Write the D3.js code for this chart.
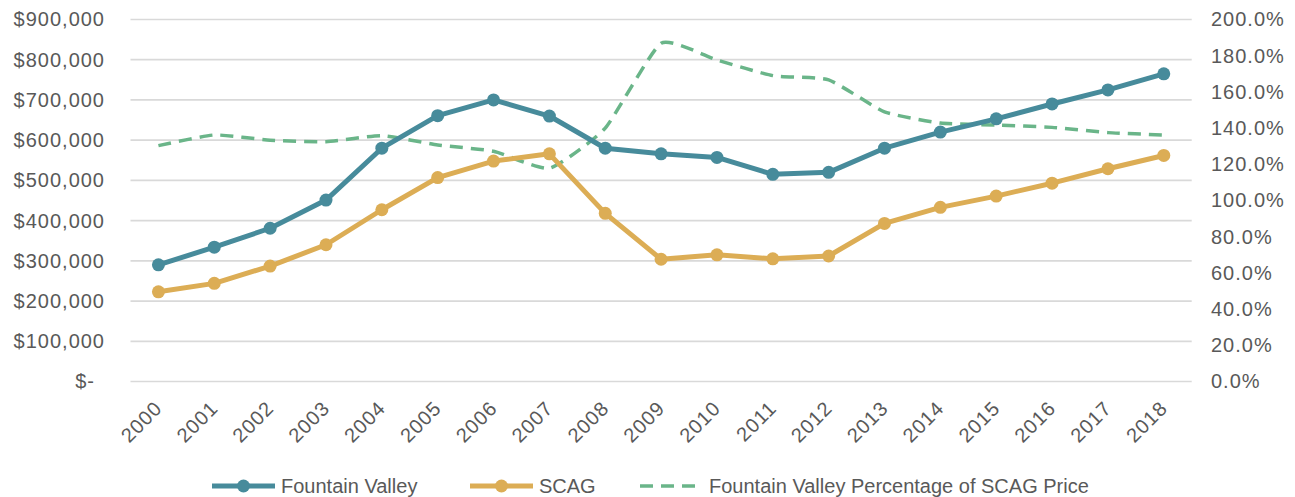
<!DOCTYPE html>
<html>
<head>
<meta charset="utf-8">
<script src="https://cdn.jsdelivr.net/npm/d3@7"></script>
<style>
  body { margin: 0; background: #fff; }
  text { font-family: "Liberation Sans", Arial, sans-serif; fill: #595959; }
</style>
</head>
<body>
<div id="chart"></div>
<script>
// Data
const years = ['2000','2001','2002','2003','2004','2005','2006','2007','2008','2009',
    '2010','2011','2012','2013','2014','2015','2016','2017','2018']
const fountainValley = [290000, 334000, 381000, 451000, 580000, 661000, 700000, 660000, 580000, 566000,
    557000, 515000, 520000, 580000, 620000, 653000, 690000, 725000, 765000]
const scag = [223000, 244000, 287000, 340000, 427000, 507000, 548000, 566000, 418000, 304000,
    315000, 305000, 312000, 393000, 433000, 461000, 493000, 529000, 562000]
const pctOfScag = [1.303, 1.362, 1.333, 1.325, 1.358, 1.307, 1.272, 1.178, 1.400, 1.869,
    1.776, 1.690, 1.666, 1.490, 1.428, 1.417, 1.404, 1.375, 1.362]
const leftTicks = [0, 100000, 200000, 300000, 400000, 500000, 600000, 700000, 800000, 900000]
const rightTicks = [0, 0.2, 0.4, 0.6, 0.8, 1.0, 1.2, 1.4, 1.6, 1.8, 2.0]
const legendLabels = ['Fountain Valley', 'SCAG', 'Fountain Valley Percentage of SCAG Price']

// Layout
const width = 1295, height = 497
const plotLeft = 130.5, plotRight = 1191.7, plotTop = 19.5, plotBottom = 381.5
const colors = {fv: '#478b9b', scag: '#dcad55', pct: '#6ab589', grid: '#d9d9d9'}

const svg = d3.select('#chart').append('svg')
    .attr('width', width)
    .attr('height', height)

// Scales
const xScale = d3.scaleBand().domain(years).range([plotLeft, plotRight])
const xPos = y => xScale(y) + xScale.bandwidth() / 2
const yLeft = d3.scaleLinear().domain([0, 900000]).range([plotBottom, plotTop])
const yRight = d3.scaleLinear().domain([0, 2]).range([plotBottom, plotTop])

// Gridlines
svg.append('g')
    .selectAll('line')
    .data(leftTicks)
    .enter()
    .append('line')
    .attr('x1', plotLeft)
    .attr('x2', plotRight)
    .attr('y1', d => yLeft(d))
    .attr('y2', d => yLeft(d))
    .style('stroke', colors.grid)
    .style('stroke-width', 1.7)

// Left axis
const moneyFormat = d3.format('$,')
const yAxisLeft = d3.axisLeft(yLeft)
    .tickValues(leftTicks)
    .tickFormat(d => d === 0 ? '$-' : moneyFormat(d))
    .tickSize(0)
    .tickPadding(0)
svg.append('g')
    .attr('id', 'y-axis-left')
    .attr('transform', 'translate(105,0)')
    .call(yAxisLeft)
    .call(g => g.select('.domain').remove())
    .selectAll('text')
    .style('font-size', '20px')
    .style('letter-spacing', '1px')
    .attr('dx', d => d === 0 ? -10 : 0)

// Right axis
const pctFormat = d3.format('.1%')
const yAxisRight = d3.axisRight(yRight)
    .tickValues(rightTicks)
    .tickFormat(pctFormat)
    .tickSize(0)
    .tickPadding(0)
svg.append('g')
    .attr('id', 'y-axis-right')
    .attr('transform', 'translate(1211,0)')
    .call(yAxisRight)
    .call(g => g.select('.domain').remove())
    .selectAll('text')
    .style('font-size', '20px')
    .style('letter-spacing', '1px')

// X axis labels (rotated)
const xAxis = d3.axisBottom(xScale).tickSize(0).tickPadding(0)
svg.append('g')
    .attr('id', 'x-axis')
    .attr('transform', 'translate(0,' + plotBottom + ')')
    .call(xAxis)
    .call(g => g.select('.domain').remove())
    .selectAll('text')
    .style('font-size', '20px')
    .style('letter-spacing', '1px')
    .style('text-anchor', 'end')
    .attr('dy', 0)
    .attr('y', 0)
    .attr('transform', 'translate(5,28) rotate(-45)')

// Percentage line (lightly smoothed, dashed, right axis)
const pctLine = d3.line()
    .x((_, i) => xPos(years[i]))
    .y(d => yRight(d))
    .curve(d3.curveCardinal.tension(0.5))
svg.append('path')
    .datum(pctOfScag)
    .attr('d', pctLine)
    .style('fill', 'none')
    .style('stroke', colors.pct)
    .style('stroke-width', 3.5)
    .style('stroke-dasharray', '13 8')

// Price lines
const priceLine = d3.line()
    .x((_, i) => xPos(years[i]))
    .y(d => yLeft(d))

function drawSeries(values, color){
    const g = svg.append('g')
    g.append('path')
        .datum(values)
        .attr('d', priceLine)
        .style('fill', 'none')
        .style('stroke', color)
        .style('stroke-width', 5)
        .style('stroke-linejoin', 'round')
    g.selectAll('circle')
        .data(values)
        .enter()
        .append('circle')
        .attr('cx', (_, i) => xPos(years[i]))
        .attr('cy', d => yLeft(d))
        .attr('r', 6.5)
        .style('fill', color)
}
drawSeries(scag, colors.scag)
drawSeries(fountainValley, colors.fv)

// Legend
const legendY = 486
const legendItems = [
    {label: legendLabels[0], color: colors.fv, x: 212, marker: true, dash: null},
    {label: legendLabels[1], color: colors.scag, x: 470, marker: true, dash: null},
    {label: legendLabels[2], color: colors.pct, x: 640, marker: false, dash: '13 8'}
]
const legend = svg.append('g').attr('id', 'legend')
legendItems.forEach(item => {
    const g = legend.append('g').attr('transform', 'translate(' + item.x + ',' + legendY + ')')
    g.append('line')
        .attr('x1', 0)
        .attr('x2', 63)
        .style('stroke', item.color)
        .style('stroke-width', item.marker ? 5 : 3.5)
        .style('stroke-dasharray', item.dash)
    if (item.marker){
        g.append('circle')
            .attr('cx', 31.5)
            .attr('r', 6.5)
            .style('fill', item.color)
    }
    g.append('text')
        .attr('x', 69)
        .attr('dy', '0.35em')
        .style('font-size', '20px')
        .text(item.label)
})
</script>
</body>
</html>
